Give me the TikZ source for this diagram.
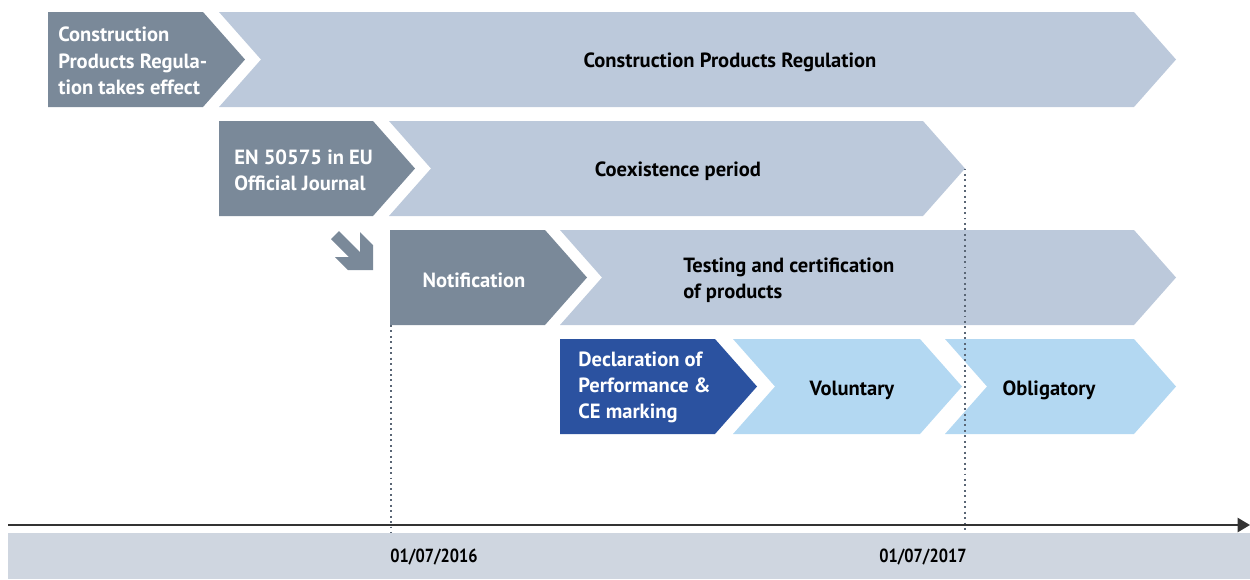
\documentclass[tikz,border=0pt]{standalone}
\usepackage{fontspec}
\setmainfont{PT Sans}
\newfontfamily\datefont[FakeStretch=0.86]{PT Sans}
\usepackage{xcolor}
\usepackage{tikz}
\usetikzlibrary{arrows.meta, positioning}

\definecolor{boxgray}{HTML}{7A8999}
\definecolor{barlight}{HTML}{BCC9DB}
\definecolor{boxblue}{HTML}{2B52A0}
\definecolor{barblue}{HTML}{B3D8F2}
\definecolor{bandgray}{HTML}{CFD6E0}
\definecolor{dotgray}{HTML}{5A6675}

% chevron: left x, tip x, middle y, notch depth, fill
\newcommand{\chev}[5]{%
  \fill[#5] (#1+#4,#3) -- (#1,#3-47.5) -- (#2-42,#3-47.5) -- (#2,#3)
    -- (#2-42,#3+47.5) -- (#1,#3+47.5) -- cycle;}

\tikzset{
  lbl/.style={font=\bfseries\fontsize{11.7}{15}\selectfont, align=left, inner sep=0pt},
  datelbl/.style={font=\datefont\bfseries\fontsize{10.8}{13}\selectfont, inner sep=0pt},
  guide/.style={draw=dotgray, line width=1.1pt, dash pattern=on 1.1pt off 2pt}
}

\begin{document}
\begin{tikzpicture}[x=0.02cm, y=-0.02cm]
        \useasboundingbox (0,0) rectangle (1250,579);

        % bars
        \chev{48}{245}{59.5}{0}{boxgray}
        \chev{219}{1176}{59.5}{42}{barlight}
        \chev{219}{415}{168.5}{0}{boxgray}
        \chev{389}{965}{168.5}{42}{barlight}
        \chev{390}{587}{277.5}{0}{boxgray}
        \chev{560}{1176}{277.5}{42}{barlight}
        \chev{560}{757}{386.5}{0}{boxblue}
        \chev{733}{962}{386.5}{42}{barblue}
        \chev{945}{1176}{386.5}{42}{barblue}

        % small arrow
        \fill[boxgray] (331,239) -- (339,231) -- (360,252) -- (360,232) -- (373,245)
          -- (373,270) -- (348,270) -- (335,257) -- (349,257) -- cycle;

        % time line
        \fill[bandgray] (8,533) rectangle (1250,579);
        \coordinate (t0) at (8,525);
        \coordinate (t1) at (1250,525);
        \draw[line width=1.2pt, draw=black!80, -{Triangle[length=7pt, width=8pt]}] (t0) -- (t1);

        \begin{scope}[every node/.style={lbl}]
          \node[text=white, anchor=west] (cpr) at (58,61) {Construction\\Products Regula-\\tion takes effect};
          \node (cprbar) at (730,62) {Construction Products Regulation};
          \node[text=white, anchor=west] (en) at (234,170) {EN 50575 in EU\\Official Journal};
          \node (coex) at (678,171) {Coexistence period};
          \node[text=white] (notif) at (474,280) {Notification};
          \node[anchor=west] (test) at (683,280) {Testing and certification\\of products};
          \node[text=white, anchor=west] (dop) at (578,387.5) {Declaration of\\Performance \&\\CE marking};
          \node (vol) at (852,390) {Voluntary};
          \node (obl) at (1049,390) {Obligatory};
          \node[datelbl, anchor=west] (d16) at (390,557) {01/07/2016};
          \node[datelbl, anchor=east] (d17) at (967,557) {01/07/2017};
        \end{scope}

        % guides
        \coordinate (g16) at (391,325);
        \coordinate (g17) at (965,168.5);
        \coordinate (b16) at (391,533);
        \coordinate (b17) at (965,533);
        \draw[guide] (g16) -- (b16);
        \draw[guide] (g17) -- (b17);
      \end{tikzpicture}
\end{document}
